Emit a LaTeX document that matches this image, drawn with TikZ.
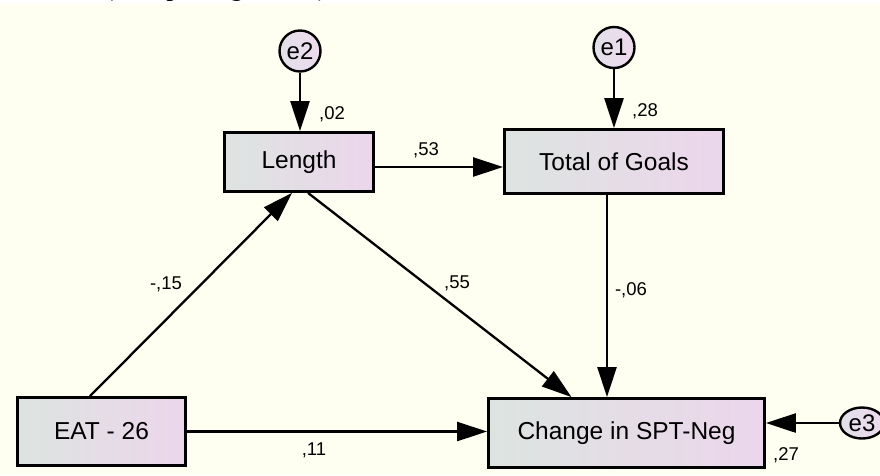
\documentclass[tikz,border=0pt]{standalone}
\usepackage{fontspec}
\setmainfont{Liberation Sans}
\newfontfamily\capfont{Liberation Serif}
\usetikzlibrary{arrows.meta,shapes.geometric}

\definecolor{paper}{RGB}{254,255,241}
\definecolor{boxleft}{RGB}{221,228,224}
\definecolor{boxright}{RGB}{236,214,236}
\definecolor{errleft}{RGB}{226,224,232}
\definecolor{errright}{RGB}{238,218,238}

\tikzset{
  varbox/.style={draw=black, line width=2.8pt, left color=boxleft, right color=boxright,
    font=\fontsize{24.5}{24.5}\selectfont, inner sep=0pt},
  errvar/.style={circle, draw=black, line width=2.4pt, left color=errleft, right color=errright,
    font=\fontsize{24}{24}\selectfont, minimum size=41pt, inner sep=0pt},
  regpath/.style={line width=2.3pt, -{Triangle[length=30pt,width=19pt]}},
  errpath/.style={line width=2.6pt, -{Triangle[length=30pt,width=19pt]}},
  coef/.style={font=\fontsize{18.5}{18.5}\selectfont, inner sep=0pt}
}

\begin{document}
\begin{tikzpicture}[x=1pt,y=-1pt]
  \useasboundingbox (0,0) rectangle (880,475);
  \fill[paper] (0,0) rectangle (880,475);

  % caption line running off the top edge
  \begin{scope}
    \clip (0,0) rectangle (880,475);
    \fill[white] (0,0) rectangle (880,4);
    \node[anchor=base west, inner sep=0pt, font=\capfont\itshape\fontsize{28}{28}\selectfont]
      (caption) at (106,-4.5) {(Completing Goals)};
  \end{scope}

  % observed variables
  \node[varbox, minimum width=149pt, minimum height=59pt] (len)   at (299,162)   {Length};
  \node[varbox, minimum width=219pt, minimum height=64pt] (goals) at (614,161.5) {Total of Goals};
  \node[varbox, minimum width=168pt, minimum height=68pt] (eat)   at (101.5,431.5) {EAT - 26};
  \node[varbox, minimum width=276pt, minimum height=69pt] (spt)   at (626.5,433) {Change in SPT-Neg};

  % error terms
  \node[errvar] (e2) at (300,51)   {e2};
  \node[errvar] (e1) at (614,47.5) {e1};
  \node[ellipse, draw=black, line width=2.4pt, left color=errleft, right color=errright,
        font=\fontsize{24}{24}\selectfont, minimum width=44pt, minimum height=31pt, inner sep=0pt]
        (e3) at (862,423) {e3};

  % error paths
  \draw[errpath] (e2.south) -- (e2.south |- len.north);
  \draw[errpath] (e1.south) -- (e1.south |- goals.north);
  \draw[errpath] (e3.west) -- (e3.west -| spt.east);

  % structural paths
  \draw[regpath] ([xshift=-11.5pt]eat.north) -- ([xshift=-7pt]len.south);
  \draw[regpath] ([xshift=9pt]len.south) -- ([xshift=-55pt]spt.north);
  \draw[regpath] ([yshift=-5pt]len.east) -- ([yshift=-5pt]len.east -| goals.west);
  \draw[regpath] ([xshift=-7pt]goals.south) -- ([xshift=-7pt]goals.south |- spt.north);
  \draw[regpath] (eat.east) -- (eat.east -| spt.west);

  % estimates
  \node[coef] (r02) at (332,114) {,02};
  \node[coef] (r28) at (645,111) {,28};
  \node[coef] (r27) at (786,455) {,27};
  \node[coef] (c53) at (426,150) {,53};
  \node[coef] (c15) at (166,284) {-,15};
  \node[coef] (c55) at (457,283) {,55};
  \node[coef] (c06) at (631,290) {-,06};
  \node[coef] (c11) at (314,450) {,11};
\end{tikzpicture}
\end{document}
